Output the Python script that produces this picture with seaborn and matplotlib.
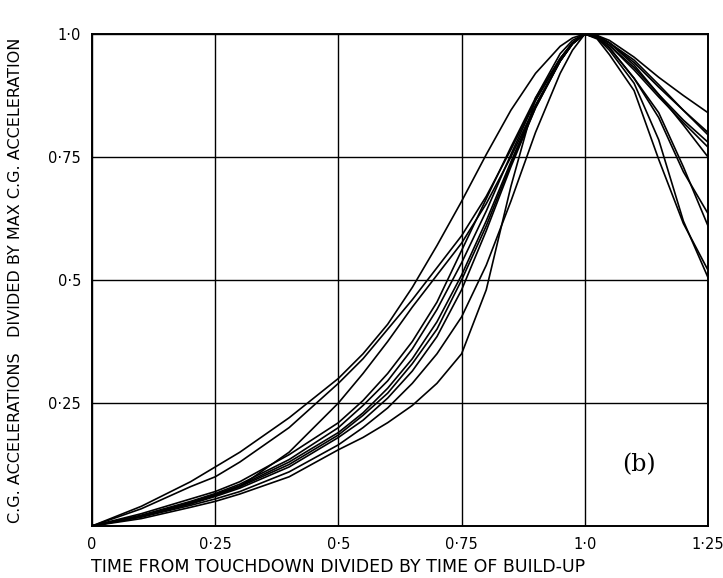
import matplotlib
matplotlib.use("Agg")
import matplotlib.pyplot as plt
import seaborn as sns
import pandas as pd

# time / build-up time
t = [0, 0.1, 0.2, 0.25, 0.3, 0.4, 0.5, 0.55, 0.6, 0.65, 0.7, 0.75, 0.8,
     0.85, 0.9, 0.95, 0.975, 1.0, 1.025, 1.05, 1.1, 1.15, 1.2, 1.25]

curve_a = [0, .04, .09, .12, .15, .22, .30, .35, .41, .485, .57, .66, .755,
           .845, .92, .975, .992, 1.0, .997, .987, .953, .912, .875, .84]
curve_b = [0, .035, .08, .10, .13, .20, .29, .34, .40, .46, .525, .59, .67,
           .765, .865, .95, .982, 1.0, .996, .982, .942, .892, .845, .80]
curve_c = [0, .02, .045, .062, .08, .15, .25, .31, .375, .445, .51, .575, .655,
           .75, .855, .945, .98, 1.0, .994, .977, .932, .877, .825, .78]
curve_d = [0, .025, .055, .07, .09, .145, .21, .255, .31, .375, .455, .56, .665,
           .77, .87, .95, .982, 1.0, .994, .977, .927, .872, .82, .77]
curve_e = [0, .022, .05, .066, .085, .135, .20, .245, .295, .36, .44, .535, .64,
           .755, .865, .95, .982, 1.0, .992, .972, .91, .83, .72, .635]
curve_f = [0, .02, .048, .064, .082, .13, .19, .23, .28, .34, .415, .51, .62,
           .74, .855, .945, .98, 1.0, .992, .972, .91, .84, .73, .61]
curve_g = [0, .02, .047, .063, .08, .125, .185, .225, .27, .33, .40, .50, .61,
           .735, .85, .945, .98, 1.0, .99, .958, .885, .745, .615, .52]
curve_h = [0, .019, .045, .06, .077, .12, .18, .215, .26, .315, .385, .48, .60,
           .73, .85, .945, .98, 1.0, .992, .967, .90, .785, .62, .505]
curve_i = [0, .018, .042, .055, .07, .11, .165, .20, .24, .29, .35, .425, .53,
           .66, .80, .92, .967, 1.0, .996, .982, .947, .897, .845, .795]
curve_j = [0, .015, .038, .05, .065, .10, .155, .18, .21, .245, .29, .35, .48,
           .69, .87, .96, .987, 1.0, .996, .982, .937, .877, .815, .75]

curves = {"A": curve_a, "B": curve_b, "C": curve_c, "D": curve_d, "E": curve_e,
          "F": curve_f, "G": curve_g, "H": curve_h, "I": curve_i, "J": curve_j}

x_ticks = [0, 0.25, 0.5, 0.75, 1.0, 1.25]
x_tick_labels = ["0", "0·25", "0·5", "0·75", "1·0", "1·25"]
y_ticks = [0.25, 0.5, 0.75, 1.0]
y_tick_labels = ["0·25", "0·5", "0·75", "1·0"]

rows = []
for name, vals in curves.items():
    for xv, yv in zip(t, vals):
        rows.append({"curve": name, "t": xv, "a": yv})
df = pd.DataFrame(rows)

sns.set_theme(style="white")
plt.rcParams["font.family"] = ["DejaVu Sans"]

fig = plt.figure(figsize=(7.23, 5.78), dpi=100)
ax = fig.add_axes([92 / 723, 52 / 578, 616 / 723, 492 / 578])

sns.lineplot(data=df, x="t", y="a", units="curve", estimator=None,
             color="black", linewidth=1.2, ax=ax)

ax.set_xlim(0, 1.25)
ax.set_ylim(0, 1.0)
ax.set_xticks(x_ticks)
ax.set_xticklabels(x_tick_labels, fontsize=10.5)
ax.set_yticks(y_ticks)
ax.set_yticklabels(y_tick_labels, fontsize=10.5)
ax.tick_params(axis="both", length=0, pad=8, colors="black")
ax.grid(True, color="black", linewidth=1.0)
for s in ax.spines.values():
    s.set_color("black")
    s.set_linewidth(1.4)

ax.set_xlabel("")
ax.set_ylabel("C.G. ACCELERATIONS   DIVIDED BY MAX C.G. ACCELERATION",
              fontsize=11.5, color="black", labelpad=18)
fig.text(338 / 723, 1 - 567 / 578,
         "TIME FROM TOUCHDOWN DIVIDED BY TIME OF BUILD-UP",
         ha="center", va="center", fontsize=12.5, color="black")
ax.text(1.11, 0.124, "(b)", fontsize=17, ha="center", va="center", color="black",
        family=["DejaVu Serif"])

fig.savefig("out.png", dpi=100, facecolor="white")
